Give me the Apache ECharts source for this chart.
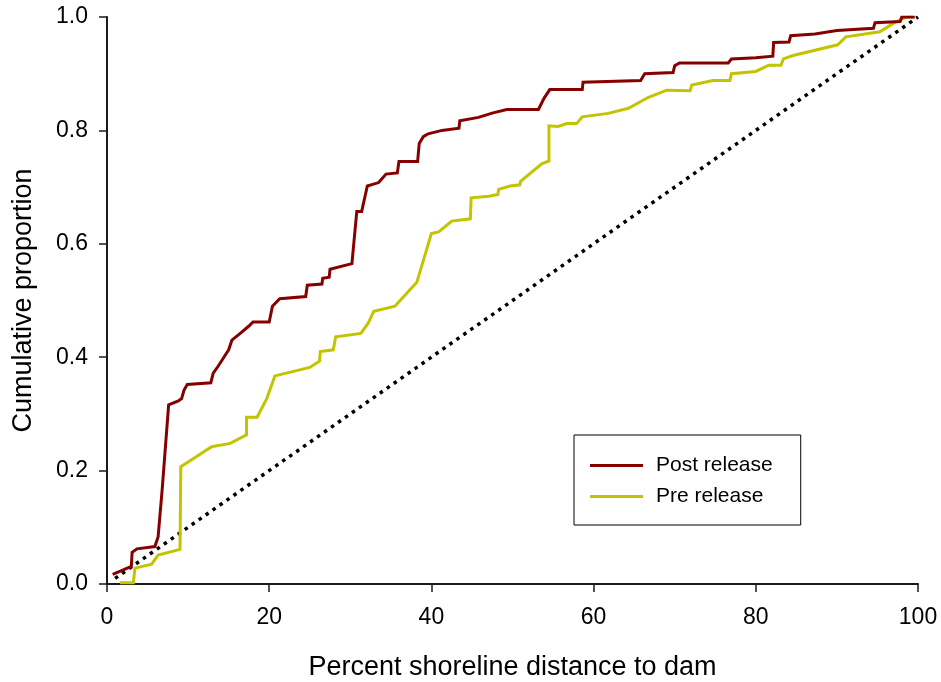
<!DOCTYPE html>
<html>
<head>
<meta charset="utf-8">
<script src="https://cdn.jsdelivr.net/npm/echarts@6/dist/echarts.min.js"></script>
<style>
  html, body { margin: 0; padding: 0; background: #fff; }
  #chart { width: 941px; height: 682px; }
</style>
</head>
<body>
<div id="chart"></div>
<script>
// Cumulative proportion of locations vs. percent shoreline distance to dam
const postX = [0.7, 3.0, 3.1, 3.7, 5.9, 6.3, 6.8, 7.6, 8.8, 9.2, 9.5, 9.9, 12.8, 13.1, 13.7, 15.0, 15.4, 16.5, 17.5, 18.0,
  20.0, 20.4, 21.3, 24.5, 24.7, 26.5, 26.6, 27.4, 27.5, 30.2, 30.8, 31.4, 32.1, 33.5, 34.4, 35.8, 36.0, 38.3, 38.5, 39.0,
  39.6, 41.3, 43.4, 43.5, 45.8, 47.6, 49.3, 53.2, 53.9, 54.6, 58.6, 58.7, 65.8, 66.3, 69.8, 70.0, 70.6, 76.6, 77.0, 80.0,
  82.1, 82.2, 84.1, 84.3, 87.3, 90.0, 94.5, 94.7, 97.8, 98.0, 99.6];
const postY = [0.017, 0.031, 0.056, 0.062, 0.066, 0.083, 0.166, 0.316, 0.323, 0.327, 0.342, 0.352, 0.355, 0.372, 0.384, 0.413, 0.430, 0.443, 0.455, 0.462,
  0.462, 0.490, 0.503, 0.507, 0.527, 0.529, 0.539, 0.541, 0.555, 0.565, 0.657, 0.657, 0.702, 0.708, 0.723, 0.725, 0.745, 0.745, 0.777, 0.789,
  0.794, 0.800, 0.804, 0.817, 0.823, 0.831, 0.837, 0.837, 0.857, 0.872, 0.872, 0.885, 0.888, 0.900, 0.902, 0.914, 0.919, 0.919, 0.926, 0.928,
  0.931, 0.955, 0.956, 0.967, 0.970, 0.976, 0.980, 0.990, 0.992, 1.000, 1.000];

const preX = [1.6, 3.25, 3.45, 5.5, 6.3, 9.0, 9.1, 10.1, 12.9, 15.2, 17.2, 17.2, 18.5, 19.7, 20.7, 25.0, 26.2, 26.3, 27.9, 28.2,
  31.3, 32.2, 32.9, 35.5, 38.2, 40.0, 40.9, 42.5, 44.8, 44.9, 47.1, 48.2, 48.3, 49.7, 50.9, 51.0, 53.6, 54.5, 54.5, 55.6,
  56.7, 57.9, 58.6, 61.8, 64.3, 66.7, 69.0, 71.9, 72.1, 74.7, 76.8, 77.0, 80.0, 81.6, 83.1, 83.4, 84.6, 90.1, 91.1, 95.3,
  97.1, 98.6, 99.4];
const preY = [0.002, 0.002, 0.028, 0.035, 0.051, 0.061, 0.207, 0.216, 0.242, 0.248, 0.263, 0.294, 0.294, 0.327, 0.367, 0.382, 0.393, 0.410, 0.413, 0.436,
  0.442, 0.460, 0.481, 0.490, 0.532, 0.618, 0.621, 0.640, 0.644, 0.681, 0.684, 0.687, 0.696, 0.702, 0.704, 0.710, 0.741, 0.746, 0.808, 0.807,
  0.812, 0.812, 0.824, 0.830, 0.839, 0.858, 0.871, 0.870, 0.880, 0.888, 0.888, 0.900, 0.904, 0.915, 0.915, 0.926, 0.932, 0.951, 0.965, 0.974,
  0.990, 1.000, 1.000];

// 1:1 reference line (uniform distribution)
const refX = [1, 100];
const refY = [0.01, 1.0];

const xTicks = [0, 20, 40, 60, 80, 100];
const yTicks = [0.0, 0.2, 0.4, 0.6, 0.8, 1.0];

const zip = (xs, ys) => xs.map((x, i) => [x, ys[i]]);
const FONT = 'Liberation Sans';
const TICK_FONT = '"Liberation Sans Narrow", "Liberation Sans"';
const AXIS_COLOR = '#1a1a1a';

const chart = echarts.init(document.getElementById('chart'), null, { renderer: 'canvas' });
chart.setOption({
  animation: false,
  backgroundColor: '#ffffff',
  textStyle: { fontFamily: FONT },
  grid: { left: 107, right: 23, top: 17, bottom: 98, containLabel: false, outerBoundsMode: 'none' },
  xAxis: {
    type: 'value',
    min: xTicks[0], max: xTicks[xTicks.length - 1], interval: 20,
    name: 'Percent shoreline distance to dam',
    nameLocation: 'middle', nameGap: 70,
    nameTextStyle: { fontSize: 27, color: '#000', fontFamily: FONT },
    axisLine: { show: true, onZero: false, lineStyle: { color: AXIS_COLOR, width: 2 } },
    axisTick: { show: true, inside: false, length: 8, lineStyle: { color: AXIS_COLOR, width: 1.5 } },
    axisLabel: { fontSize: 23, color: '#000', margin: 22, fontFamily: TICK_FONT },
    splitLine: { show: false }
  },
  yAxis: {
    type: 'value',
    min: yTicks[0], max: yTicks[yTicks.length - 1], interval: 0.2,
    name: 'Cumulative proportion',
    nameLocation: 'middle', nameGap: 70,
    nameTextStyle: { fontSize: 27, color: '#000', fontFamily: FONT },
    axisLine: { show: true, lineStyle: { color: AXIS_COLOR, width: 2 } },
    axisTick: { show: true, inside: false, length: 8, lineStyle: { color: AXIS_COLOR, width: 1.5 } },
    axisLabel: { fontSize: 23, color: '#000', margin: 19, fontFamily: TICK_FONT,
      formatter: v => v.toFixed(1) },
    splitLine: { show: false }
  },
  legend: {
    orient: 'vertical',
    left: 574, top: 435,
    padding: [20, 28, 18, 16],
    itemGap: 10,
    itemWidth: 53, itemHeight: 3,
    icon: 'rect',
    borderColor: '#000', borderWidth: 1,
    textStyle: { fontSize: 21, color: '#000', fontFamily: FONT, padding: [0, 0, 0, 8] },
    data: ['Post release', 'Pre release']
  },
  series: [
    {
      name: 'Reference', type: 'line', data: zip(refX, refY),
      symbol: 'none', silent: true, z: 1,
      lineStyle: { color: '#000', width: 3.5, type: [3.5, 5], cap: 'butt' }
    },
    {
      name: 'Pre release', type: 'line', data: zip(preX, preY),
      symbol: 'none', z: 2, color: '#c2c400',
      lineStyle: { color: '#c2c400', width: 3, join: 'miter' }
    },
    {
      name: 'Post release', type: 'line', data: zip(postX, postY),
      symbol: 'none', z: 3, color: '#870000',
      lineStyle: { color: '#870000', width: 3, join: 'miter' }
    }
  ]
});
</script>
</body>
</html>
